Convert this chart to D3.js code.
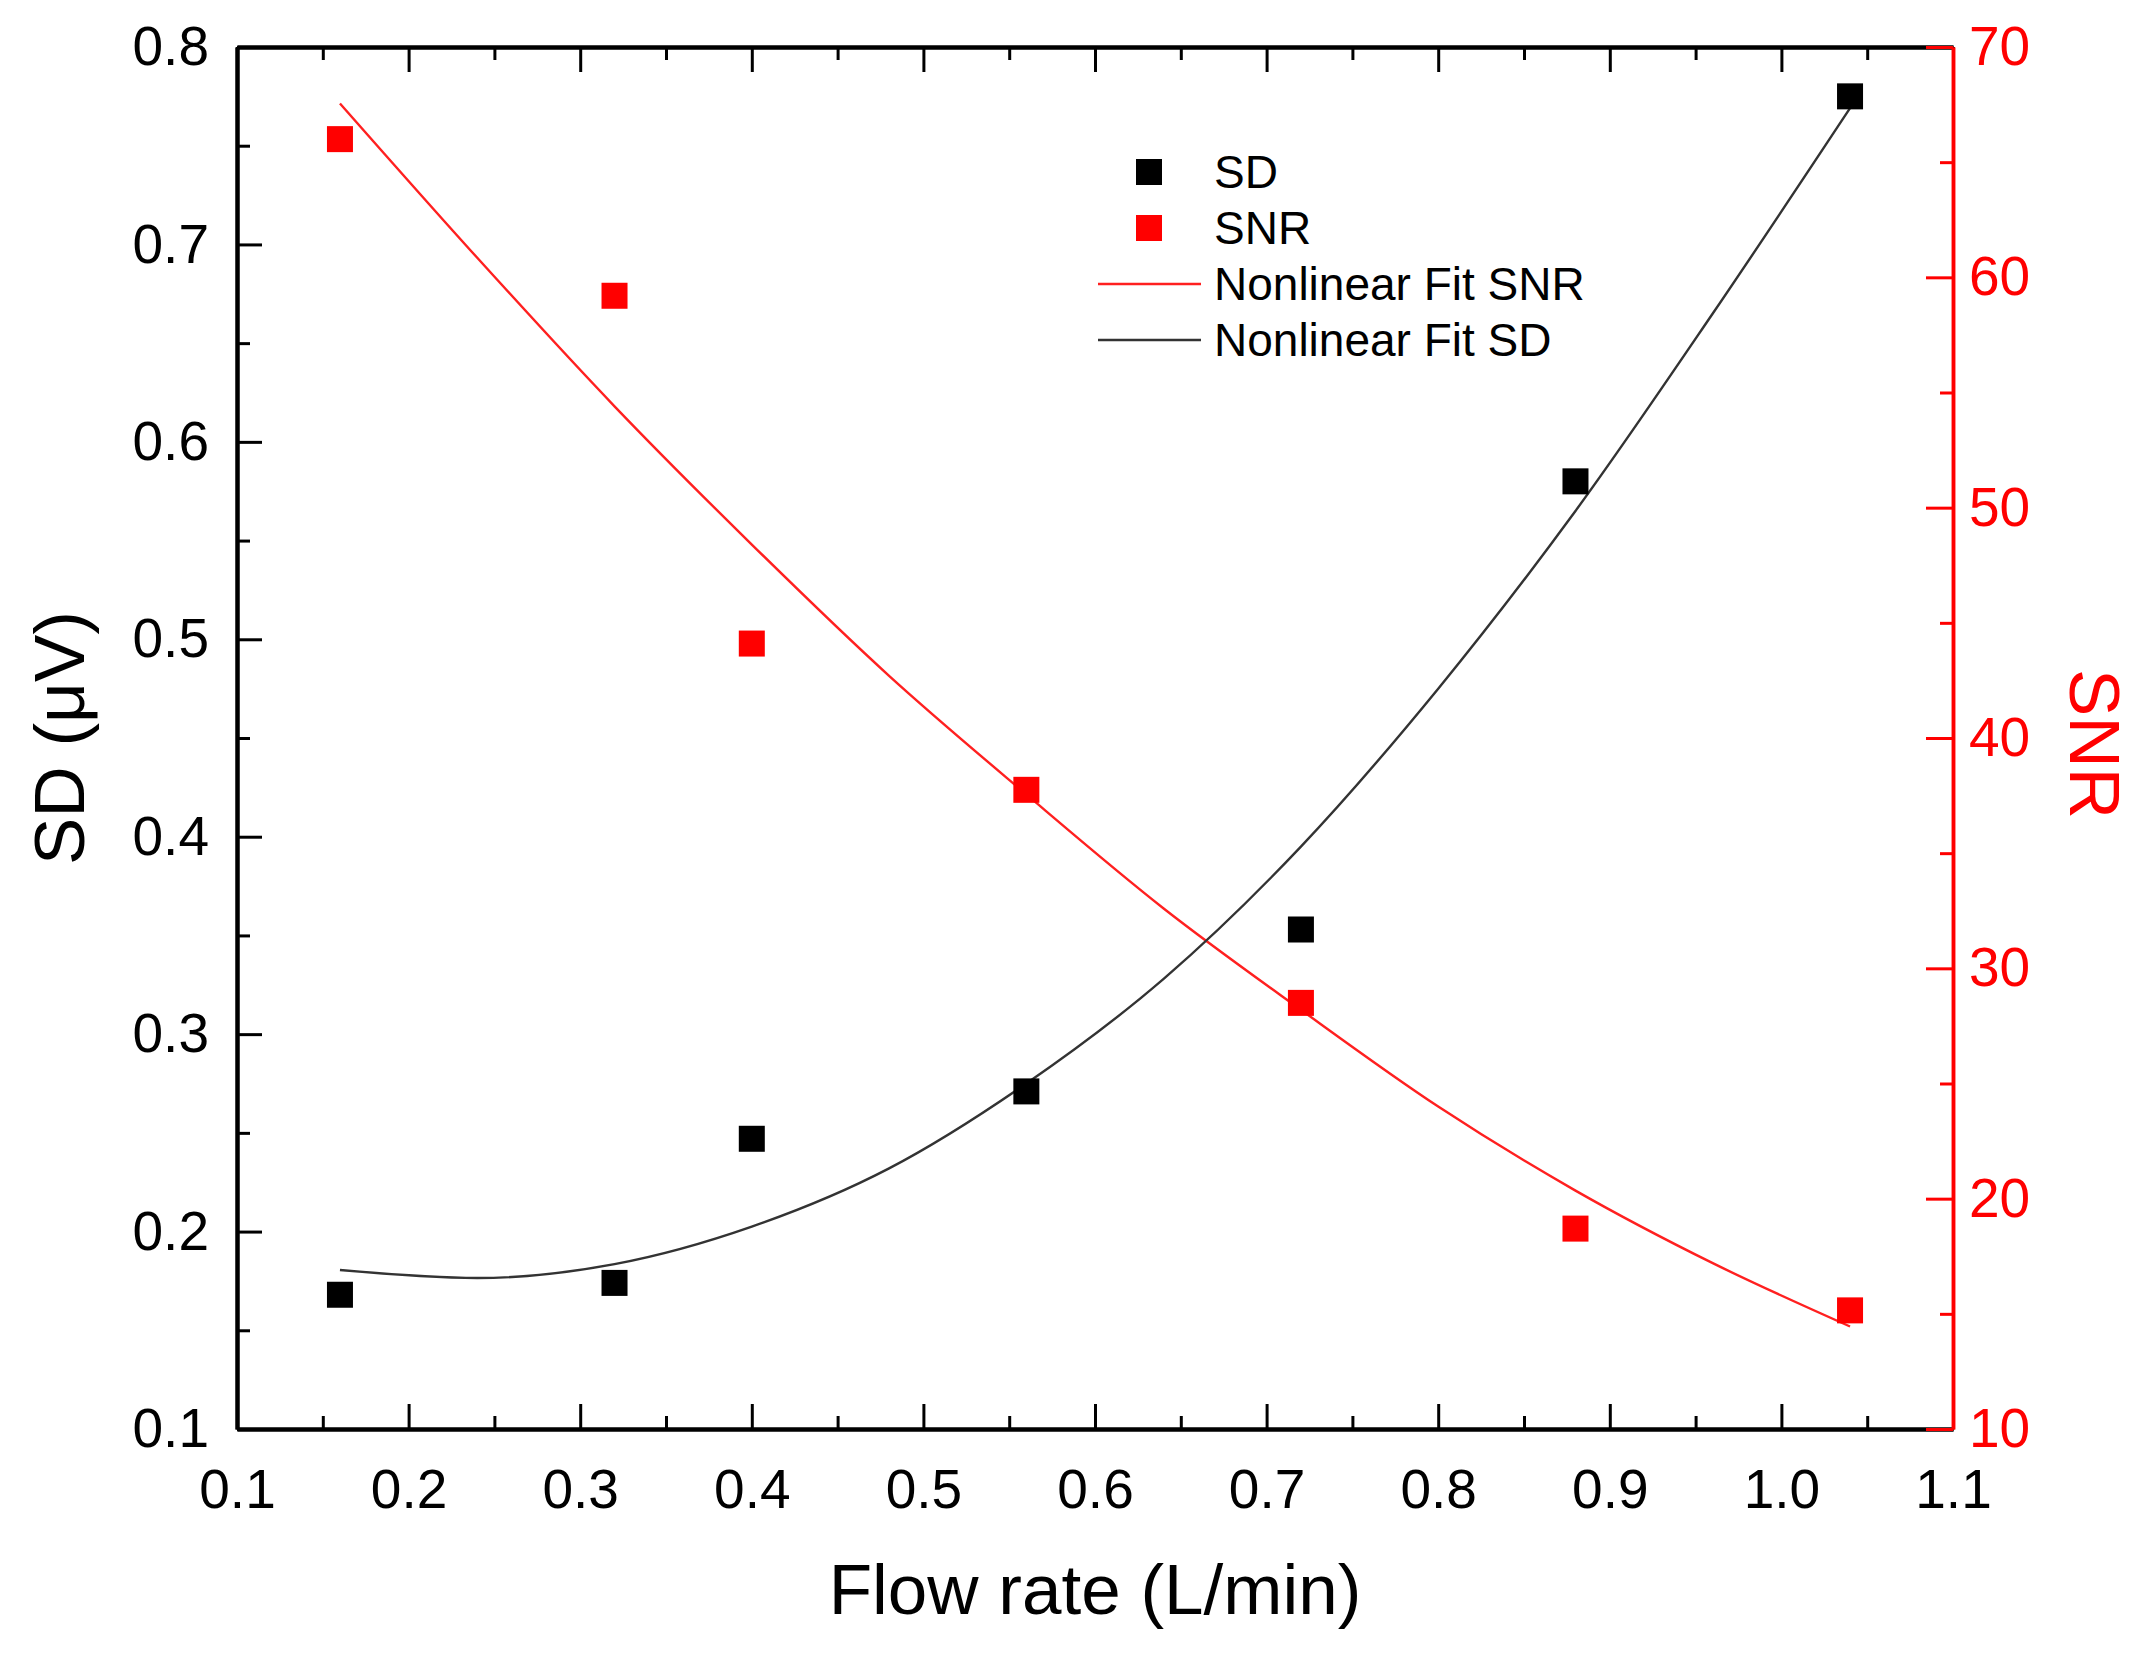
<!DOCTYPE html>
<html>
<head>
<meta charset="utf-8">
<script src="https://cdn.jsdelivr.net/npm/d3@7"></script>
<style>
  html, body { margin: 0; padding: 0; background: #fff; }
  text { font-family: "Liberation Sans", Arial, sans-serif; }
</style>
</head>
<body>
<div id="chart"></div>
<script>
// measured points
const flowRate = [0.16, 0.32, 0.40, 0.56, 0.72, 0.88, 1.04];
const sdValues = [0.168, 0.174, 0.247, 0.271, 0.353, 0.580, 0.775];
const snrValues = [66.0, 59.2, 44.1, 37.75, 28.5, 18.7, 15.15];

// fitted curves
const fitX = [0.16, 0.24, 0.32, 0.40, 0.48, 0.56, 0.64, 0.72, 0.80, 0.88, 0.96, 1.04];
const fitSD = [0.1805, 0.1765, 0.1835, 0.2025, 0.232, 0.275, 0.328, 0.395, 0.475, 0.565, 0.665, 0.769];
const fitSNR = [67.55, 60.85, 54.4, 48.4, 42.7, 37.55, 32.6, 28.2, 24.0, 20.35, 17.2, 14.45];

// ticks
const xTicks = [0.1, 0.2, 0.3, 0.4, 0.5, 0.6, 0.7, 0.8, 0.9, 1.0, 1.1];
const xMinor = [0.15, 0.25, 0.35, 0.45, 0.55, 0.65, 0.75, 0.85, 0.95, 1.05];
const sdTicks = [0.1, 0.2, 0.3, 0.4, 0.5, 0.6, 0.7, 0.8];
const sdMinor = [0.15, 0.25, 0.35, 0.45, 0.55, 0.65, 0.75];
const snrTicks = [10, 20, 30, 40, 50, 60, 70];
const snrMinor = [15, 25, 35, 45, 55, 65];

const legendItems = [
  { label: "SD", type: "marker", color: "#000" },
  { label: "SNR", type: "marker", color: "#ff0000" },
  { label: "Nonlinear Fit SNR", type: "line", color: "#ff2020" },
  { label: "Nonlinear Fit SD", type: "line", color: "#333" }
];

const width = 2154, height = 1656;
const margin = { top: 47, right: 201, bottom: 227, left: 237 };
const innerW = width - margin.left - margin.right;
const innerH = height - margin.top - margin.bottom;

const svg = d3.select("#chart")
  .append("svg")
  .attr("width", width)
  .attr("height", height);

const chart = svg.append("g")
  .attr("transform", `translate(${margin.left},${margin.top})`);

const x = d3.scaleLinear().domain([0.1, 1.1]).range([0, innerW]);
const ySD = d3.scaleLinear().domain([0.1, 0.8]).range([innerH, 0]);
const ySNR = d3.scaleLinear().domain([10, 70]).range([innerH, 0]);

const fmt = d3.format(".1f");

// fit lines
const sdLine = d3.line()
  .x((d, i) => x(fitX[i]))
  .y(d => ySD(d))
  .curve(d3.curveMonotoneX);

const snrLine = d3.line()
  .x((d, i) => x(fitX[i]))
  .y(d => ySNR(d))
  .curve(d3.curveMonotoneX);

chart.append("path")
  .datum(fitSNR)
  .attr("fill", "none")
  .attr("stroke", "#ff2020")
  .attr("stroke-width", 2.4)
  .attr("d", snrLine);

chart.append("path")
  .datum(fitSD)
  .attr("fill", "none")
  .attr("stroke", "#333")
  .attr("stroke-width", 2.4)
  .attr("d", sdLine);

// markers
const ms = 26;

chart.selectAll(".sd-point")
  .data(sdValues)
  .enter()
  .append("rect")
  .attr("class", "sd-point")
  .attr("x", (d, i) => x(flowRate[i]) - ms / 2)
  .attr("y", d => ySD(d) - ms / 2)
  .attr("width", ms)
  .attr("height", ms)
  .attr("fill", "#000");

chart.selectAll(".snr-point")
  .data(snrValues)
  .enter()
  .append("rect")
  .attr("class", "snr-point")
  .attr("x", (d, i) => x(flowRate[i]) - ms / 2)
  .attr("y", d => ySNR(d) - ms / 2)
  .attr("width", ms)
  .attr("height", ms)
  .attr("fill", "#ff0000");

// axes
function styleAxis(g, color, lineW) {
  g.select(".domain").attr("stroke", color).attr("stroke-width", lineW);
  g.selectAll(".tick line").attr("stroke", color).attr("stroke-width", 3);
  g.selectAll(".tick text")
    .attr("fill", color)
    .style("font-size", "55px")
    .style("font-family", '"Liberation Sans", Arial, sans-serif');
}

// minor ticks first
chart.append("g")
  .attr("transform", `translate(0,${innerH})`)
  .call(d3.axisBottom(x).tickValues(xMinor).tickSizeInner(-13).tickSizeOuter(0).tickFormat(""))
  .call(g => styleAxis(g, "#000", 4));

chart.append("g")
  .call(d3.axisTop(x).tickValues(xMinor).tickSizeInner(-13).tickSizeOuter(0).tickFormat(""))
  .call(g => styleAxis(g, "#000", 4));

chart.append("g")
  .call(d3.axisLeft(ySD).tickValues(sdMinor).tickSizeInner(-13).tickSizeOuter(0).tickFormat(""))
  .call(g => styleAxis(g, "#000", 4));

chart.append("g")
  .attr("transform", `translate(0,${innerH})`)
  .call(d3.axisBottom(x).tickValues(xTicks).tickSizeInner(-25).tickSizeOuter(0).tickPadding(40).tickFormat(fmt))
  .call(g => styleAxis(g, "#000", 4));

chart.append("g")
  .call(d3.axisTop(x).tickValues(xTicks).tickSizeInner(-25).tickSizeOuter(0).tickFormat(""))
  .call(g => styleAxis(g, "#000", 4));

chart.append("g")
  .call(d3.axisLeft(ySD).tickValues(sdTicks).tickSizeInner(-25).tickSizeOuter(0).tickPadding(28).tickFormat(fmt))
  .call(g => styleAxis(g, "#000", 4));

// right SNR axis in red
chart.append("g")
  .attr("transform", `translate(${innerW},0)`)
  .call(d3.axisRight(ySNR).tickValues(snrMinor).tickSizeInner(-13).tickSizeOuter(0).tickFormat(""))
  .call(g => styleAxis(g, "#ff0000", 3.5));

chart.append("g")
  .attr("transform", `translate(${innerW},0)`)
  .call(d3.axisRight(ySNR).tickValues(snrTicks).tickSizeInner(-27).tickSizeOuter(0).tickPadding(16).tickFormat(d3.format("d")))
  .call(g => styleAxis(g, "#ff0000", 3.5));

// axis titles
svg.append("text")
  .attr("x", margin.left + innerW / 2)
  .attr("y", 1614)
  .attr("text-anchor", "middle")
  .style("font-size", "71px")
  .text("Flow rate (L/min)");

svg.append("text")
  .attr("transform", `translate(84,${margin.top + innerH / 2}) rotate(-90)`)
  .attr("text-anchor", "middle")
  .style("font-size", "71px")
  .text("SD (μV)");

svg.append("text")
  .attr("transform", `translate(2070,${margin.top + innerH / 2 + 6}) rotate(90)`)
  .attr("text-anchor", "middle")
  .attr("fill", "#ff0000")
  .style("font-size", "71px")
  .text("SNR");

// legend
const legend = svg.append("g")
  .attr("transform", "translate(1098,172)");

const rowH = 56;

legendItems.forEach((item, i) => {
  const row = legend.append("g").attr("transform", `translate(0,${i * rowH})`);
  if (item.type === "marker") {
    row.append("rect")
      .attr("x", 51 - 13)
      .attr("y", -13)
      .attr("width", 26)
      .attr("height", 26)
      .attr("fill", item.color);
  } else {
    row.append("line")
      .attr("x1", 0)
      .attr("x2", 103)
      .attr("y1", 0)
      .attr("y2", 0)
      .attr("stroke", item.color)
      .attr("stroke-width", 2.5);
  }
  row.append("text")
    .attr("x", 116)
    .attr("y", 0)
    .attr("dy", "0.35em")
    .style("font-size", "46px")
    .text(item.label);
});
</script>
</body>
</html>
